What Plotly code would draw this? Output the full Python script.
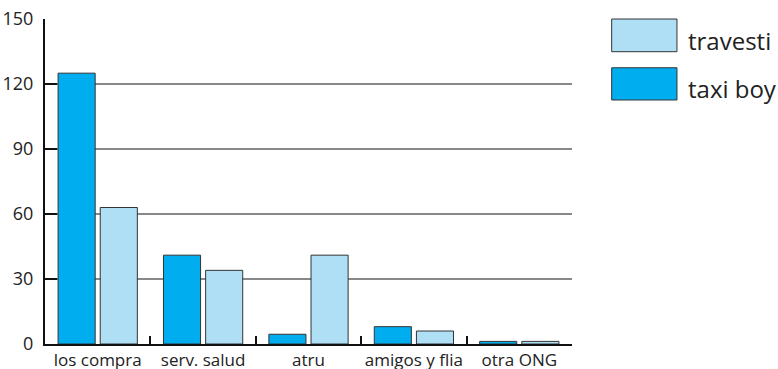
import plotly.graph_objects as go

# datos
categorias = ["los compra", "serv. salud", "atru", "amigos y flia", "otra ONG"]
taxi_boy = [125, 41, 4.5, 8, 1.2]
travesti = [63, 34, 41, 6, 1.2]
y_ticks = [0, 30, 60, 90, 120, 150]

COL_TAXI = "#00ADEE"
COL_TRAV = "#AEDFF5"
FONT = "Open Sans, Noto Sans, sans-serif"

fig = go.Figure()
fig.add_trace(go.Bar(x=categorias, y=taxi_boy, name="taxi boy",
                     marker=dict(color=COL_TAXI, line=dict(color="#333333", width=1))))
fig.add_trace(go.Bar(x=categorias, y=travesti, name="travesti",
                     marker=dict(color=COL_TRAV, line=dict(color="#333333", width=1))))

# leyenda dibujada a mano (cuadros grandes como en el original)
leyenda = [("travesti", COL_TRAV, 1.0, 0.8994), ("taxi boy", COL_TAXI, 0.850, 0.7508)]
for nombre, col, y1, y0 in leyenda:
    fig.add_shape(type="rect", xref="paper", yref="paper",
                  x0=1.0753, x1=1.1992, y0=y0, y1=y1,
                  fillcolor=col, line=dict(color="#333333", width=1))
    fig.add_annotation(text=nombre, xref="paper", yref="paper",
                       x=1.2163, y=(y0 + y1) / 2 - 0.015,
                       xanchor="left", yanchor="middle", showarrow=False,
                       font=dict(size=24, color="#222222", family=FONT))

fig.update_layout(
    width=778, height=369,
    margin=dict(l=45, r=206, t=19, b=25),
    plot_bgcolor="white", paper_bgcolor="white",
    barmode="group", bargap=0.2, bargroupgap=0.12,
    showlegend=False,
    font=dict(family=FONT, size=17, color="#222222"),
    xaxis=dict(showline=True, linecolor="#111111", linewidth=2,
               ticks="inside", tickson="boundaries", ticklen=8,
               tickwidth=2, tickcolor="#111111", showgrid=False,
               tickangle=0, automargin=False,
               tickfont=dict(size=17)),
    yaxis=dict(range=[0, 150], tickvals=y_ticks, showline=True,
               linecolor="#111111", linewidth=2, ticks="inside", ticklen=12,
               tickwidth=2, tickcolor="#111111", showgrid=True,
               gridcolor="#888888", gridwidth=1.5, zeroline=False,
               ticklabelstandoff=6, automargin=False,
               tickfont=dict(size=18)),
)

# sin margen del body para que la figura empiece en (0, 0)
fig.write_html("out.html", config={"displayModeBar": False},
               post_script="document.body.style.margin='0';")
